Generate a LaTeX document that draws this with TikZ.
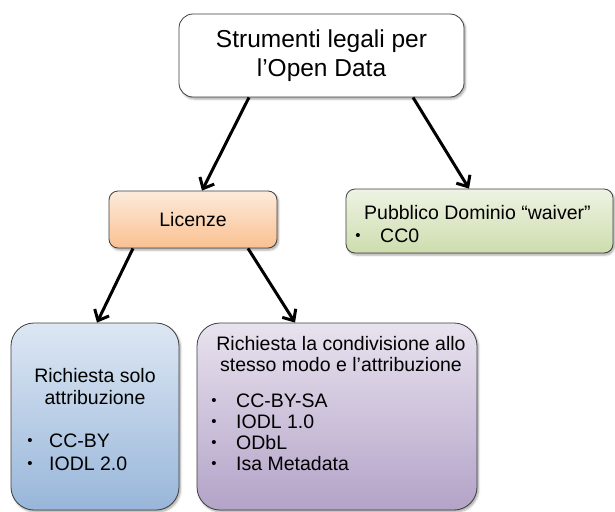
\documentclass[tikz,border=0pt]{standalone}
\usepackage{fontspec}
\setmainfont{Liberation Sans}
\usetikzlibrary{arrows.meta,shadows.blur}

\definecolor{edge}{HTML}{3F3F3F}
\definecolor{orangeT}{HTML}{FDEBDC}
\definecolor{orangeB}{HTML}{FAC090}
\definecolor{greenT}{HTML}{EEF3E3}
\definecolor{greenB}{HTML}{CDDDAE}
\definecolor{blueT}{HTML}{DDE7F3}
\definecolor{blueB}{HTML}{98B6DA}
\definecolor{purpT}{HTML}{E8E2EE}
\definecolor{purpB}{HTML}{B3A3C8}

\begin{document}
\begin{tikzpicture}[x=1pt,y=-1pt,
  box/.style={draw=edge, line width=0.8pt, inner sep=0pt,
    blur shadow={shadow xshift=1.5pt, shadow yshift=-2pt,
      shadow blur steps=5, shadow opacity=35}},
  bigfont/.style={font=\fontsize{24.5}{29}\selectfont},
  txt/.style={font=\fontsize{19.5}{21}\selectfont, inner sep=0pt},
  dot/.style={font=\fontsize{15}{15}\selectfont, inner sep=0pt, anchor=base},
  link/.style={line width=3pt, -{Straight Barb[length=9pt,width=16pt]}},
]
\useasboundingbox (0,0) rectangle (615,511);

% boxes
\node[box, rounded corners=14pt, fill=white, minimum width=285pt,
      minimum height=83pt, bigfont, align=center]
  (top) at (321.5,55.5) {Strumenti legali per\\l’Open Data};
\node[box, rounded corners=9pt, top color=orangeT, bottom color=orangeB,
      minimum width=168pt, minimum height=57pt, txt]
  (lic) at (193,219.5) {Licenze};
\node[box, rounded corners=9pt, top color=greenT, bottom color=greenB,
      minimum width=267pt, minimum height=64pt]
  (pd) at (479.5,221) {};
\node[box, rounded corners=23pt, top color=blueT, bottom color=blueB,
      minimum width=168pt, minimum height=187pt]
  (att) at (95,416.5) {};
\node[box, rounded corners=23pt, top color=purpT, bottom color=purpB,
      minimum width=280pt, minimum height=187pt]
  (sa) at (337,416.5) {};

% public domain text
\node[txt, anchor=base west] (pdt) at (364,219) {Pubblico Dominio “waiver”};
\node[dot] (pdb1) at (358,240.5) {•};
\node[txt, anchor=base west] (pdi1) at (380,242) {CC0};

% attribution only
\node[txt, anchor=base] (att1) at (95,382) {Richiesta solo};
\node[txt, anchor=base] (att2) at (95,404) {attribuzione};
\node[dot] (attb1) at (30,445.5) {•};
\node[txt, anchor=base west] (atti1) at (49,447) {CC-BY};
\node[dot] (attb2) at (30,468.5) {•};
\node[txt, anchor=base west] (atti2) at (49,470) {IODL 2.0};

% share-alike and attribution
\node[txt, anchor=base] (sa1) at (341,350) {Richiesta la condivisione allo};
\node[txt, anchor=base] (sa2) at (341,371) {stesso modo e l’attribuzione};
\node[dot] (sab1) at (214,405.5) {•};
\node[txt, anchor=base west] (sai1) at (236,407) {CC-BY-SA};
\node[dot] (sab2) at (214,426.5) {•};
\node[txt, anchor=base west] (sai2) at (236,428) {IODL 1.0};
\node[dot] (sab3) at (214,447.5) {•};
\node[txt, anchor=base west] (sai3) at (236,449) {ODbL};
\node[dot] (sab4) at (214,468.5) {•};
\node[txt, anchor=base west] (sai4) at (236,470) {Isa Metadata};

% connectors
\draw[link] ([xshift=-72.5pt]top.south) -- ([xshift=9pt]lic.north);
\draw[link] ([xshift=91.5pt]top.south) -- ([xshift=-10.5pt]pd.north);
\draw[link] ([xshift=-60pt]lic.south) -- ([xshift=2pt]att.north);
\draw[link] ([xshift=55pt]lic.south) -- ([xshift=-42pt]sa.north);
\end{tikzpicture}
\end{document}
